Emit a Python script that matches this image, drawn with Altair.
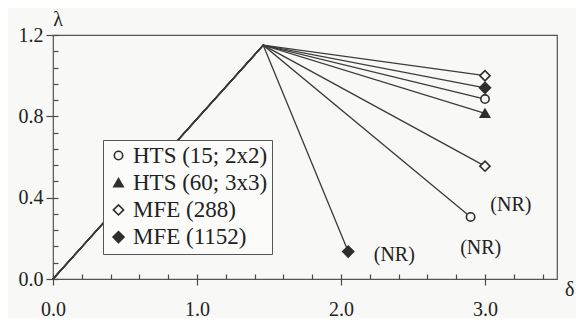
import altair as alt
import pandas as pd

# ---- data ----
series = ["HTS (15; 2x2)", "HTS (60; 3x3)", "MFE (288)", "MFE (1152)"]
shapes = ["circle", "triangle-up", "diamond", "diamond"]
fills = ["#f8f8f6", "#2e2e2e", "#f8f8f6", "#2e2e2e"]
sizes = [70, 120, 110, 110]

curve_series = [series[0], series[0], series[1], series[2], series[2], series[3], series[3]]
start_x = 0.0
start_y = 0.0
peak_x = 1.46
peak_y = 1.15
end_x = [3.0, 2.9, 3.0, 3.0, 3.0, 3.0, 2.05]
end_y = [0.885, 0.305, 0.815, 1.0, 0.555, 0.94, 0.135]

nr_x = [3.18, 2.97, 2.37]
nr_y = [0.364, 0.151, 0.12]
nr_text = ["(NR)", "(NR)", "(NR)"]

x_major = [0.0, 1.0, 2.0, 3.0]
x_minor = [0.2, 0.4, 0.6, 0.8, 1.2, 1.4, 1.6, 1.8, 2.2, 2.4, 2.6, 2.8, 3.2, 3.4]
y_major = [0.0, 0.4, 0.8, 1.2]
y_minor = [0.08, 0.16, 0.24, 0.32, 0.48, 0.56, 0.64, 0.72, 0.88, 0.96, 1.04, 1.12]

# ---- tables ----
line_rows = []
for i, (s, ex, ey) in enumerate(zip(curve_series, end_x, end_y)):
    line_rows.append({"curve": i, "step": 0, "x": start_x, "y": start_y, "series": s})
    line_rows.append({"curve": i, "step": 1, "x": peak_x, "y": peak_y, "series": s})
    line_rows.append({"curve": i, "step": 2, "x": ex, "y": ey, "series": s})
lines_df = pd.DataFrame(line_rows)
pts_df = pd.DataFrame({"x": end_x, "y": end_y, "series": curve_series})
nr_df = pd.DataFrame({"x": nr_x, "y": nr_y, "t": nr_text})

FONT = "Liberation Serif"
INK = "#2e2e2e"
AX = "#4a4a4a"
BG = "#f8f8f6"

xs = alt.Scale(domain=[0, 3.5], nice=False, zero=False)
ys = alt.Scale(domain=[0, 1.2], nice=False, zero=False)

minor_x = alt.Axis(orient="bottom", values=x_minor, labels=False, domain=False, grid=False,
                   title=None, tickSize=5, offset=-5, tickColor=AX, tickWidth=1.2)
minor_y = alt.Axis(orient="left", values=y_minor, labels=False, domain=False, grid=False,
                   title=None, tickSize=5, offset=-5, tickColor=AX, tickWidth=1.2)
major_x = alt.Axis(orient="bottom", values=x_major, format=".1f", domain=False, grid=False,
                   title=None, tickSize=11, offset=-5, tickColor=AX, tickWidth=1.2,
                   labelFlush=False, labelOverlap=False,
                   labelFont=FONT, labelFontSize=20, labelColor="#222", labelPadding=14)
major_y = alt.Axis(orient="left", values=y_major, format=".1f", domain=False, grid=False,
                   title=None, tickSize=12, offset=-5, tickColor=AX, tickWidth=1.2,
                   labelFlush=False, labelOverlap=False,
                   labelFont=FONT, labelFontSize=20, labelColor="#222", labelPadding=3)

lines = alt.Chart(lines_df).mark_line(color="#3a3a3a", strokeWidth=1.3).encode(
    x=alt.X("x:Q", scale=xs, axis=minor_x),
    y=alt.Y("y:Q", scale=ys, axis=minor_y),
    detail="curve:N",
    order="step:O",
)

leg = alt.Legend(title=None, orient="none", legendX=50, legendY=105, padding=4,
                 strokeColor="#555", fillColor="#fbfbfa",
                 labelFont=FONT, labelFontSize=23, labelColor="#222", labelLimit=400,
                 rowPadding=3.2, labelOffset=3,
                 symbolStrokeWidth=1.6, symbolStrokeColor=INK)

points = alt.Chart(pts_df).mark_point(filled=True, strokeWidth=1.6, opacity=1).encode(
    x=alt.X("x:Q", scale=xs, axis=major_x),
    y=alt.Y("y:Q", scale=ys, axis=major_y),
    shape=alt.Shape("series:N", scale=alt.Scale(domain=series, range=shapes), legend=leg),
    fill=alt.Fill("series:N", scale=alt.Scale(domain=series, range=fills), legend=leg),
    stroke=alt.Stroke("series:N", scale=alt.Scale(domain=series, range=[INK, INK, INK, INK]), legend=leg),
    size=alt.Size("series:N", scale=alt.Scale(domain=series, range=sizes), legend=leg),
)

nr = alt.Chart(nr_df).mark_text(font=FONT, fontSize=20, color="#222",
                                align="center", baseline="middle").encode(
    x=alt.X("x:Q", scale=xs, axis=None),
    y=alt.Y("y:Q", scale=ys, axis=None),
    text="t:N",
)

one = pd.DataFrame({"a": [0]})
lam = alt.Chart(one).mark_text(text="λ", font=FONT, fontSize=20, color="#222",
                               align="center", baseline="middle").encode(
    x=alt.value(5), y=alt.value(-15))
dlt = alt.Chart(one).mark_text(text="δ", font=FONT, fontSize=20, color="#222",
                               align="left", baseline="middle").encode(
    x=alt.value(512), y=alt.value(255))

chart = alt.layer(lines, points, nr, lam, dlt).resolve_axis(
    x="independent", y="independent"
).properties(
    width=504, height=244,
    padding={"left": 45, "top": 27, "right": 19, "bottom": 39},
    autosize=alt.AutoSizeParams(type="none"),
    background=BG,
).configure_view(stroke="#555", strokeWidth=1.2).configure_legend(
    labelFont=FONT, labelFontSize=23
)

chart.save("out.html", embed_options={"renderer": "svg", "actions": False})
